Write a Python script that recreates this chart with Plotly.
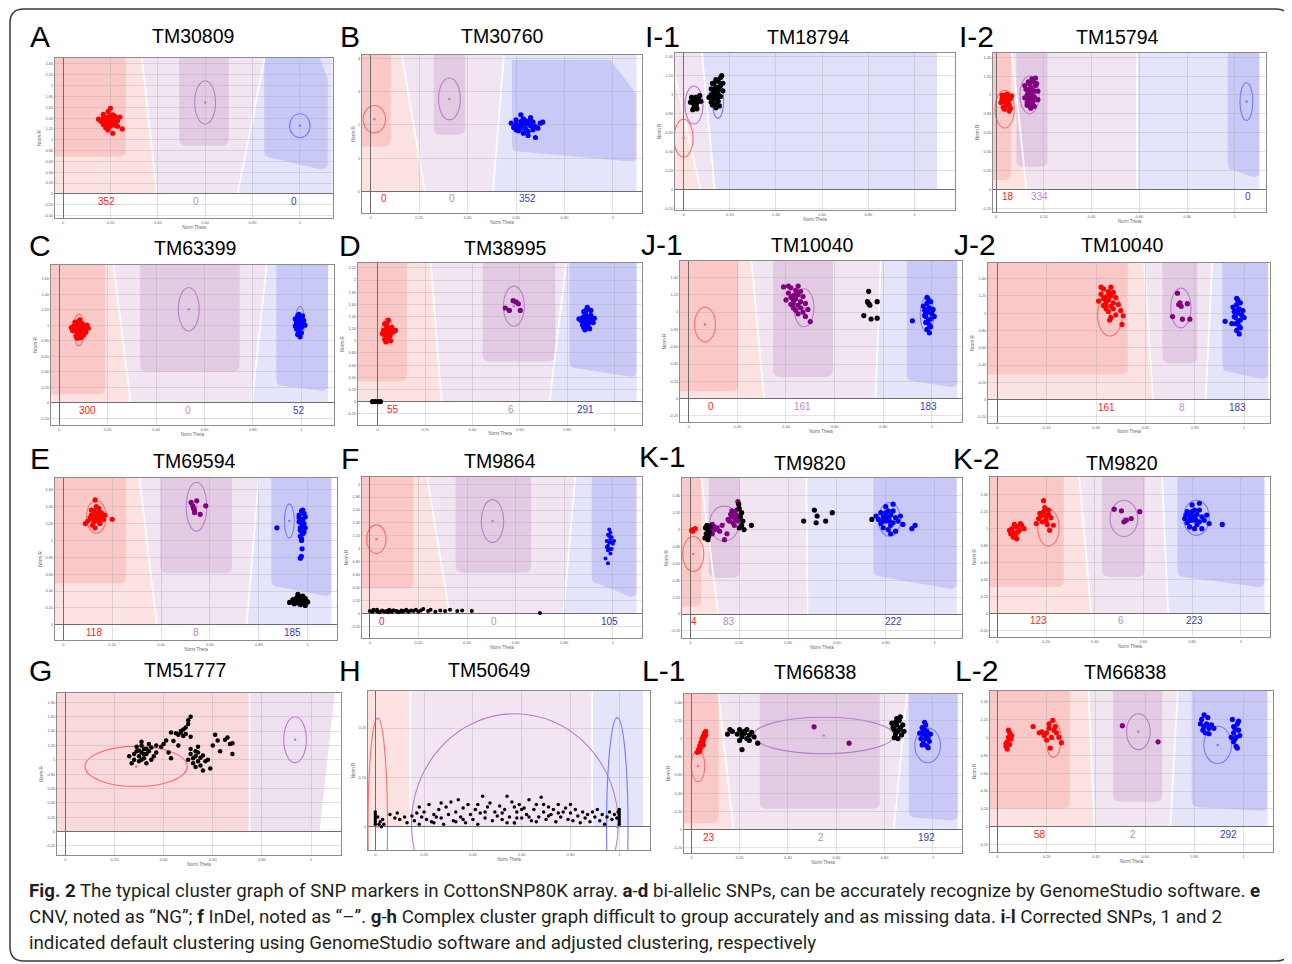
import plotly.graph_objects as go

W, H = 1292, 964
OFF = 8                      # the page body adds an 8px margin around the figure
FW, FH = W - OFF, H - OFF    # figure size actually used

# ---------------- data ----------------
PANEL_KEYS = ["A", "B", "I-1", "I-2", "C", "D", "J-1", "J-2",
              "E", "F", "K-1", "K-2", "G", "H", "L-1", "L-2"]
SNP_NAMES = ["TM30809", "TM30760", "TM18794", "TM15794", "TM63399", "TM38995", "TM10040", "TM10040",
             "TM69594", "TM9864", "TM9820", "TM9820", "TM51777", "TM50649", "TM66838", "TM66838"]

# genotype counts (AA, AB, BB) shown under each plot
COUNTS = {
    "A": [352, 0, 0], "B": [0, 0, 352], "I-2": [18, 334, 0],
    "C": [300, 0, 52], "D": [55, 6, 291], "J-1": [0, 161, 183], "J-2": [161, 8, 183],
    "E": [118, 8, 185], "F": [0, 0, 105], "K-1": [4, 83, 222], "K-2": [123, 6, 223],
    "L-1": [23, 2, 192], "L-2": [58, 2, 292],
}

X_TICKS = [0, 0.2, 0.4, 0.6, 0.8, 1]
X_TICK_TEXT = ["0", "0.20", "0.40", "0.60", "0.80", "1"]
YT_A = [-0.4, -0.2, 0, 0.2, 0.4, 0.6, 0.8, 1, 1.2, 1.4, 1.6, 1.8, 2, 2.2, 2.4]
YT_B = [0, 1, 2, 3, 4]
YT_14 = [-0.2, 0, 0.2, 0.4, 0.6, 0.8, 1, 1.2, 1.4]
YT_C = [-0.2, 0, 0.2, 0.4, 0.6, 0.8, 1, 1.2, 1.4, 1.6]
YT_D = [-0.2, 0, 0.2, 0.4, 0.6, 0.8, 1, 1.2, 1.4, 1.6, 1.8, 2, 2.2]
YT_E = [0, 0.2, 0.4, 0.6, 0.8, 1, 1.2, 1.4, 1.6]
YT_F = [-0.2, 0, 0.2, 0.4, 0.6, 0.8, 1, 1.2, 1.4, 1.6, 1.8, 2]
YT_G = [-0.2, 0, 0.2, 0.4, 0.6, 0.8, 1, 1.2, 1.4, 1.6, 1.8]
YT_H = [0, 0.1, 0.2]

# sample points (Norm Theta, Norm R)
A_RED = [(0.19,1.33),(0.18,1.36),(0.20,1.30),(0.21,1.38),(0.17,1.28),(0.22,1.33),(0.19,1.42),(0.20,1.25),
         (0.18,1.22),(0.21,1.46),(0.23,1.35),(0.16,1.34),(0.19,1.52),(0.22,1.27),(0.17,1.40),(0.20,1.37),
         (0.18,1.30),(0.21,1.29),(0.24,1.42),(0.15,1.38),(0.19,1.18),(0.21,1.12),(0.25,1.20),(0.20,1.58),
         (0.17,1.47),(0.22,1.43),(0.23,1.25),(0.19,1.26),(0.18,1.40),(0.20,1.44)]
B_BLUE = [(0.63,2.0),(0.61,1.95),(0.65,2.05),(0.62,2.10),(0.64,1.88),(0.60,2.02),(0.66,1.97),(0.63,2.18),
          (0.61,1.82),(0.67,2.08),(0.64,2.12),(0.62,1.90),(0.65,1.80),(0.60,2.15),(0.68,1.95),(0.59,1.92),
          (0.66,2.22),(0.63,1.75),(0.70,2.05),(0.71,2.08),(0.58,2.05),(0.65,1.68),(0.62,2.30),(0.67,1.85),
          (0.69,1.90),(0.64,2.02),(0.62,2.0),(0.68,1.62),(0.60,1.85),(0.66,2.15)]
I1_BLACK = [(0.035,0.97),(0.04,0.93),(0.045,0.90),(0.05,0.95),(0.055,0.88),(0.06,0.92),(0.065,0.96),(0.07,0.99),
            (0.045,0.86),(0.04,0.84),(0.058,0.85),(0.075,0.93),(0.03,0.92),(0.052,0.97),
            (0.14,1.0),(0.13,0.95),(0.15,1.05),(0.12,1.0),(0.16,0.98),(0.14,1.08),(0.13,1.03),(0.15,0.93),
            (0.12,0.92),(0.16,1.10),(0.14,0.90),(0.17,1.04),(0.11,0.97),(0.15,1.14),(0.13,1.12),(0.16,1.18),
            (0.14,0.86),(0.12,1.06),(0.15,1.0),(0.13,0.98),(0.17,1.12),(0.14,1.16),(0.155,0.88),(0.125,0.89),
            (0.165,1.2),(0.135,1.06),(0.145,0.96),(0.155,1.08),(0.125,1.12)]
I2_RED = [(0.025,0.96),(0.03,0.99),(0.035,0.93),(0.04,0.96),(0.045,1.01),(0.05,0.94),(0.055,0.90),(0.06,0.86),
          (0.04,0.88),(0.035,0.85),(0.06,0.96),(0.02,0.92),(0.05,0.98),(0.03,0.87),(0.045,0.89),(0.065,0.99),
          (0.055,0.83),(0.025,1.0)]
I2_PURPLE = [(0.145,1.0),(0.135,0.95),(0.155,1.05),(0.13,1.0),(0.16,0.98),(0.145,1.08),(0.135,1.03),(0.155,0.93),
             (0.13,0.92),(0.165,1.10),(0.145,0.90),(0.175,1.04),(0.12,0.97),(0.155,1.14),(0.14,1.12),(0.165,1.18),
             (0.145,0.86),(0.125,1.06),(0.15,1.0),(0.14,0.98),(0.17,1.12),(0.15,1.17),(0.16,0.88),(0.13,0.89),
             (0.175,0.95),(0.14,1.06),(0.15,0.96),(0.12,1.1),(0.16,1.04),(0.135,1.14)]
C_RED = [(0.08,0.95),(0.07,0.92),(0.09,0.98),(0.075,1.02),(0.085,0.88),(0.065,0.96),(0.095,0.93),(0.08,1.05),
         (0.07,0.86),(0.1,0.99),(0.09,0.9),(0.06,0.99),(0.105,0.95),(0.075,0.83),(0.085,1.07),(0.055,0.93),
         (0.11,0.91),(0.12,0.96),(0.065,1.04),(0.095,1.02),(0.08,0.89),(0.09,0.84),(0.07,0.98),(0.1,0.87),
         (0.05,0.97),(0.115,1.0),(0.085,0.95),(0.075,0.95)]
C_BLUE = [(0.99,1.05),(0.985,1.0),(0.995,1.10),(0.98,0.95),(1.0,1.02),(0.99,0.92),(0.975,1.08),(1.005,1.12),
          (0.985,0.88),(1.0,0.97),(0.99,1.14),(0.98,1.03),(1.01,1.06),(0.995,0.85),(0.975,0.99),(1.0,0.9),
          (0.985,1.12),(1.015,1.0),(0.99,0.97),(0.995,1.07)]
D_RED = [(0.04,1.15),(0.03,1.1),(0.05,1.2),(0.035,1.25),(0.045,1.05),(0.025,1.17),(0.055,1.12),(0.04,1.3),
         (0.03,1.02),(0.06,1.22),(0.05,1.08),(0.02,1.12),(0.065,1.15),(0.035,0.98),(0.045,1.34),(0.075,1.17),
         (0.04,1.22),(0.05,1.15),(0.03,1.28),(0.055,1.0)]
D_PURPLE = [(0.556,1.50),(0.572,1.66),(0.584,1.64),(0.594,1.61),(0.602,1.50),(0.539,1.54)]
D_BLUE = [(0.88,1.35),(0.87,1.3),(0.89,1.4),(0.875,1.45),(0.885,1.25),(0.865,1.38),(0.895,1.32),(0.88,1.5),
          (0.87,1.22),(0.9,1.42),(0.89,1.28),(0.86,1.33),(0.905,1.36),(0.875,1.18),(0.885,1.55),(0.915,1.37),
          (0.88,1.42),(0.89,1.35),(0.87,1.48),(0.895,1.2),(0.85,1.36),(0.9,1.5),(0.865,1.26),(0.88,1.28),(0.91,1.3)]
D_BLACK = [(-0.022,0.0),(-0.01,0.0),(0.002,0.0),(0.012,0.0)]
J1_PURPLE = [(0.44,1.15),(0.43,1.1),(0.45,1.2),(0.42,1.17),(0.46,1.12),(0.44,1.25),(0.43,1.05),(0.45,1.08),
             (0.41,1.22),(0.47,1.18),(0.42,1.28),(0.46,1.05),(0.44,1.02),(0.4,1.14),(0.48,1.1),(0.45,1.3),
             (0.43,1.19),(0.47,1.0),(0.42,1.09),(0.49,1.03),(0.45,0.98),(0.41,1.3),(0.44,1.2),(0.46,1.24),
             (0.5,0.89),(0.39,1.29),(0.48,0.95),(0.43,1.14)]
J1_BLACK = [(0.72,0.96),(0.74,1.1),(0.735,1.12),(0.745,1.08),(0.775,1.12),(0.75,0.92),(0.775,0.93),(0.74,1.24)]
J1_BLUE = [(0.985,1.0),(0.975,0.95),(0.99,1.05),(0.98,1.1),(0.995,0.92),(0.97,1.02),(1.0,0.98),(0.985,1.15),
           (0.975,0.88),(0.99,0.85),(1.005,1.03),(0.98,0.8),(0.995,1.12),(0.97,0.96),(0.985,0.9),(0.99,0.76),
           (0.965,1.07),(1.01,0.95),(0.98,1.17),(0.995,0.83),(0.92,0.9),(0.985,1.04),(0.975,0.99)]
J2_RED = [(0.45,1.15),(0.44,1.1),(0.46,1.2),(0.43,1.17),(0.47,1.12),(0.45,1.25),(0.44,1.05),(0.46,1.08),
          (0.42,1.22),(0.48,1.18),(0.43,1.28),(0.47,1.05),(0.45,1.02),(0.41,1.14),(0.49,1.1),(0.46,1.3),
          (0.44,1.19),(0.48,0.98),(0.43,1.09),(0.5,1.03),(0.46,0.95),(0.42,1.3),(0.45,1.2),(0.47,1.24),
          (0.51,0.97),(0.505,0.87),(0.455,0.92),(0.44,1.14)]
J2_PURPLE = [(0.73,1.23),(0.735,1.1),(0.745,1.08),(0.71,0.96),(0.77,1.11),(0.75,0.93),(0.78,0.93),(0.74,1.12)]
J2_BLUE = [(0.975,1.0),(0.965,0.95),(0.98,1.05),(0.97,1.1),(0.985,0.92),(0.96,1.02),(0.99,0.98),(0.975,1.15),
           (0.965,0.88),(0.98,0.85),(0.995,1.03),(0.97,0.8),(0.985,1.12),(0.96,0.96),(0.975,0.9),(0.98,0.76),
           (0.955,1.07),(1.0,0.95),(0.97,1.17),(0.985,0.83),(0.923,0.906),(0.95,0.88),(0.975,1.04)]
E_RED = [(0.13,1.28),(0.12,1.25),(0.14,1.32),(0.125,1.35),(0.145,1.22),(0.115,1.3),(0.15,1.27),(0.135,1.4),
         (0.12,1.18),(0.155,1.33),(0.14,1.24),(0.11,1.27),(0.16,1.29),(0.13,1.15),(0.145,1.38),(0.17,1.3),
         (0.125,1.22),(0.135,1.3),(0.1,1.23),(0.165,1.25),(0.13,1.48),(0.09,1.2),(0.15,1.2),(0.2,1.25),
         (0.115,1.36),(0.14,1.28)]
E_PURPLE = [(0.523,1.45),(0.53,1.41),(0.533,1.38),(0.537,1.33),(0.546,1.47),(0.56,1.31),(0.583,1.41),(0.537,1.36)]
E_BLUE = [(0.975,1.2),(0.97,1.15),(0.98,1.25),(0.965,1.3),(0.985,1.1),(0.975,1.35),(0.97,1.05),(0.98,1.18),
          (0.965,1.22),(0.99,1.28),(0.975,1.02),(0.985,1.32),(0.97,1.12),(0.98,1.08),(0.965,1.27),(0.99,1.15),
          (0.975,1.0),(0.98,1.36),(0.977,0.9),(0.974,0.81),(0.97,0.79),(0.874,1.15),(0.97,1.24),(0.985,1.2)]
E_BLACK = [(0.926,0.265),(0.94,0.3),(0.95,0.28),(0.955,0.32),(0.96,0.26),(0.965,0.3),(0.97,0.33),(0.975,0.27),
           (0.98,0.3),(0.985,0.25),(0.99,0.31),(0.995,0.28),(0.96,0.36),(0.97,0.24),(0.98,0.34),(1.0,0.27),
           (0.945,0.25),(0.99,0.23),(0.955,0.29),(0.975,0.31)]
F_BLUE = [(0.985,1.1),(0.98,1.05),(0.99,1.15),(0.985,1.2),(0.995,1.0),(0.975,1.12),(0.99,1.25),(0.98,0.98),
          (1.0,1.08),(0.985,1.3),(0.975,1.03),(0.995,1.18),(0.99,0.93),(0.98,1.22),(1.005,1.12),(0.985,1.0),
          (0.97,0.85),(0.98,0.78),(0.99,1.1)]
F_BLACK = [(0.0,0.04),(0.01,0.03),(0.02,0.05),(0.03,0.04),(0.04,0.02),(0.05,0.05),(0.06,0.03),(0.07,0.04),
           (0.08,0.06),(0.09,0.03),(0.1,0.05),(0.11,0.04),(0.12,0.02),(0.13,0.05),(0.14,0.04),(0.15,0.06),
           (0.16,0.03),(0.17,0.05),(0.18,0.04),(0.19,0.06),(0.2,0.03),(0.21,0.05),(0.22,0.07),(0.24,0.04),
           (0.25,0.06),(0.27,0.03),(0.29,0.05),(0.31,0.04),(0.33,0.06),(0.36,0.04),(0.38,0.05),(0.42,0.04),
           (0.70,0.01),(0.015,0.06),(0.035,0.03),(0.055,0.04),(0.075,0.02),(0.095,0.05),(0.115,0.03),
           (0.135,0.03),(0.155,0.04),(0.03,0.06)]
K1_RED = [(0.005,0.99),(0.012,1.0),(0.02,1.01),(0.01,0.98)]
K1_BLACK = [(0.06,0.9),(0.065,0.95),(0.07,1.0),(0.075,0.92),(0.068,1.05),(0.072,0.88),(0.078,0.97),(0.062,1.02),
            (0.08,1.04),(0.07,0.94),(0.2,1.25),(0.21,1.2),(0.205,1.15),(0.215,1.1),(0.22,1.0),(0.2,1.02),
            (0.21,1.05),(0.198,1.3),(0.25,1.05),(0.464,1.1),(0.508,1.23),(0.519,1.16),(0.515,1.08),(0.554,1.1),
            (0.581,1.2),(0.743,1.12)]
K1_PURPLE = [(0.08,0.98),(0.085,1.02),(0.09,0.95),(0.095,1.04),(0.1,1.0),(0.09,1.06),(0.11,1.02),(0.13,1.05),
             (0.12,0.98),(0.15,0.95),(0.14,0.88),(0.16,1.1),(0.17,1.15),(0.175,1.08),(0.18,1.2),(0.185,1.12),
             (0.19,1.17),(0.195,1.1),(0.18,1.05),(0.17,1.22),(0.19,1.23),(0.165,1.18),(0.2,1.14),(0.195,1.33),
             (0.155,1.12)]
K1_BLUE = [(0.81,1.13),(0.8,1.1),(0.82,1.17),(0.79,1.15),(0.83,1.08),(0.81,1.22),(0.78,1.07),(0.84,1.14),
           (0.8,1.2),(0.82,1.05),(0.77,1.12),(0.85,1.1),(0.79,1.02),(0.83,1.22),(0.81,1.0),(0.76,1.16),
           (0.86,1.16),(0.8,1.27),(0.84,0.98),(0.78,1.2),(0.82,0.95),(0.87,1.06),(0.8,1.15),(0.83,1.3),
           (0.79,1.1),(0.907,1.01),(0.92,1.05),(0.815,1.1)]
K2_RED = [(0.05,0.98),(0.06,1.0),(0.07,0.95),(0.08,1.02),(0.075,0.92),(0.09,0.98),(0.1,1.04),(0.065,0.9),
          (0.085,0.96),(0.095,1.06),(0.055,0.94),(0.11,1.0),(0.07,1.05),(0.08,0.88),
          (0.18,1.15),(0.19,1.2),(0.2,1.1),(0.21,1.17),(0.17,1.12),(0.195,1.25),(0.205,1.05),(0.185,1.08),
          (0.22,1.13),(0.19,1.33),(0.175,1.18),(0.21,1.22),(0.2,1.15),(0.16,1.06),(0.23,1.04),(0.215,0.98)]
K2_PURPLE = [(0.48,1.23),(0.51,1.21),(0.53,1.1),(0.55,1.12),(0.585,1.2),(0.52,1.08)]
K2_BLUE = [(0.81,1.13),(0.8,1.1),(0.82,1.17),(0.79,1.15),(0.83,1.08),(0.81,1.22),(0.78,1.07),(0.84,1.14),
           (0.8,1.2),(0.82,1.05),(0.77,1.12),(0.85,1.1),(0.79,1.02),(0.83,1.22),(0.81,1.0),(0.775,1.16),
           (0.86,1.16),(0.8,1.28),(0.84,1.0),(0.78,1.2),(0.87,1.06),(0.8,1.15),(0.83,1.3),(0.79,1.1),
           (0.924,1.05),(0.815,1.1)]
G_BLACK = [(0.31,1.1),(0.3,1.05),(0.32,1.15),(0.29,1.12),(0.33,1.08),(0.31,1.2),(0.3,0.98),(0.34,1.12),
           (0.32,1.02),(0.28,1.08),(0.35,1.17),(0.31,1.25),(0.33,0.95),(0.29,1.18),(0.36,1.05),(0.27,0.95),
           (0.34,1.22),(0.3,1.13),(0.32,1.08),(0.37,1.1),(0.31,1.0),(0.33,1.15),(0.28,1.0),(0.35,1.0),
           (0.47,1.38),(0.48,1.42),(0.46,1.35),(0.49,1.45),(0.5,1.5),(0.5,1.55),(0.51,1.6),(0.47,1.4),
           (0.45,1.37),(0.49,1.36),(0.48,1.33),(0.43,1.38),(0.51,1.32),
           (0.52,1.02),(0.53,1.05),(0.54,0.98),(0.51,1.08),(0.55,1.03),(0.53,1.12),(0.52,0.95),(0.56,1.06),
           (0.54,1.1),(0.5,1.0),(0.57,0.98),(0.55,0.92),(0.53,0.9),(0.58,1.0),(0.59,0.88),(0.51,1.15),
           (0.56,0.85),(0.54,1.18),
           (0.41,1.27),(0.42,1.1),(0.43,1.02),(0.39,1.18),(0.44,1.26),(0.61,1.35),(0.62,1.27),(0.63,1.12),
           (0.65,1.28),(0.66,1.31),(0.67,1.22),(0.68,1.23),(0.68,1.08),(0.6,1.2),(0.4,1.22),(0.37,1.2),
           (0.26,1.05),(0.46,1.2)]
H_BLACK = [(0.0,0.005),(0.0,0.01),(0.0,0.015),(0.0,0.02),(0.0,0.025),(0.0,0.03),(0.01,0.02),(0.015,0.005),
           (0.02,0.01),(0.025,0.0),(0.03,0.015),(0.035,0.005),(0.06,0.025),(0.08,0.018),(0.09,0.028),
           (0.1,0.015),(0.12,0.02),(0.13,0.008),(0.15,0.022),(0.16,0.012),(0.17,0.028),(0.18,0.005),
           (0.18,0.04),(0.19,0.02),(0.2,0.03),(0.21,0.015),(0.22,0.045),(0.23,0.01),(0.24,0.025),(0.25,0.02),
           (0.26,0.035),(0.27,0.018),(0.28,0.005),(0.29,0.04),(0.3,0.025),(0.31,0.05),(0.32,0.012),(0.33,0.03),
           (0.34,0.055),(0.35,0.02),(0.36,0.038),(0.37,0.008),(0.38,0.045),(0.39,0.025),(0.4,0.015),
           (0.41,0.035),(0.42,0.005),(0.43,0.028),(0.44,0.062),(0.45,0.018),(0.46,0.04),(0.47,0.048),
           (0.48,0.012),(0.49,0.03),(0.5,0.022),(0.51,0.042),(0.52,0.015),(0.53,0.035),(0.54,0.062),
           (0.55,0.02),(0.56,0.05),(0.57,0.008),(0.58,0.03),(0.59,0.045),(0.6,0.018),(0.61,0.038),
           (0.62,0.025),(0.63,0.055),(0.64,0.012),(0.65,0.035),(0.66,0.045),(0.67,0.02),(0.68,0.06),
           (0.69,0.03),(0.7,0.015),(0.71,0.04),(0.72,0.025),(0.73,0.035),(0.74,0.01),(0.75,0.045),
           (0.76,0.02),(0.77,0.03),(0.78,0.038),(0.79,0.015),(0.8,0.028),(0.81,0.012),(0.82,0.035),
           (0.83,0.022),(0.84,0.008),(0.85,0.03),(0.86,0.018),(0.87,0.025),(0.88,0.01),(0.89,0.03),
           (0.9,0.02),(0.91,0.035),(0.92,0.012),(0.93,0.025),(0.94,0.005),(0.95,0.02),(0.96,0.03),
           (0.97,0.015),(0.98,0.025),(1.0,0.005),(1.0,0.01),(1.0,0.015),(1.0,0.02),(1.0,0.025),(1.0,0.03),
           (1.0,0.035),(0.99,0.018),(0.995,0.03),(0.27,0.048),(0.36,0.015),(0.45,0.03),(0.52,0.028),
           (0.58,0.018),(0.63,0.02),(0.69,0.045),(0.75,0.028),(0.8,0.045),(0.57,0.04),(0.42,0.045),
           (0.33,0.01),(0.24,0.008),(0.6,0.035),(0.66,0.01),(0.71,0.022),(0.54,0.008)]
L1_RED = [(0.03,0.88),(0.035,0.92),(0.04,0.96),(0.045,1.0),(0.05,1.03),(0.055,1.06),(0.06,1.08),(0.04,0.9),
          (0.05,0.98),(0.045,0.94),(0.035,0.86),(0.055,1.02),(0.06,1.04),(0.025,0.85),(0.05,0.93)]
L1_BLACK = [(0.15,1.05),(0.17,1.08),(0.19,1.05),(0.2,1.1),(0.21,1.02),(0.22,1.06),(0.23,1.0),(0.22,1.08),
            (0.24,1.04),(0.25,1.07),(0.21,1.06),(0.23,1.1),(0.2,0.98),(0.24,0.98),(0.26,1.02),(0.275,0.95),
            (0.21,0.88),(0.16,1.1),
            (0.84,1.1),(0.85,1.15),(0.86,1.2),(0.845,1.05),(0.855,1.08),(0.865,1.12),(0.83,1.17),(0.85,1.22),
            (0.87,1.04),(0.84,1.01),(0.86,1.1),(0.875,1.15),(0.835,1.12),(0.855,1.0),(0.865,1.24),(0.845,1.18),
            (0.88,1.08)]
L1_PURPLE = [(0.508,1.13),(0.653,0.95)]
L1_BLUE = [(0.96,1.05),(0.965,1.1),(0.97,1.0),(0.975,1.08),(0.955,1.12),(0.98,1.02),(0.96,0.95),(0.97,1.15),
           (0.985,0.97),(0.95,1.0),(0.975,0.92),(0.965,1.18),(0.99,1.05),(0.96,1.08),(0.98,0.9),(0.945,1.06),
           (0.97,1.04),(0.955,0.93)]
L2_RED = [(0.035,0.9),(0.04,0.95),(0.045,1.0),(0.05,1.05),(0.04,0.87),(0.055,0.98),(0.045,1.08),(0.035,0.93),
          (0.05,0.92),(0.058,1.02),
          (0.2,1.05),(0.21,1.1),(0.22,1.0),(0.23,1.08),(0.19,1.02),(0.24,1.05),(0.21,1.15),(0.225,1.19),
          (0.2,0.97),(0.25,1.0),(0.18,1.06),(0.215,0.88),(0.26,0.94),(0.145,1.12),(0.17,1.05),(0.235,1.12)]
L2_PURPLE = [(0.508,1.13),(0.653,0.95)]
L2_BLUE = [(0.84,1.12),(0.85,1.15),(0.83,1.2),(0.86,1.1),(0.845,1.05),(0.855,1.22),(0.835,1.08),(0.87,1.14),
           (0.84,1.25),(0.86,1.04),(0.825,1.15),(0.88,1.1),
           (0.96,1.05),(0.965,1.1),(0.97,1.0),(0.975,1.15),(0.96,0.95),(0.98,1.08),(0.955,1.2),(0.97,0.9),
           (0.985,1.02),(0.96,1.12),(0.975,0.88),(0.95,1.0),(0.98,1.18),(0.965,0.98)]

# cluster ellipses: (genotype colour, centre theta, centre R, half-width, half-height)
A_ELL = [("p", 0.60, 1.69, 0.044, 0.40), ("b", 1.0, 1.26, 0.043, 0.22)]
B_ELL = [("r", 0.015, 2.17, 0.046, 0.41), ("p", 0.325, 2.78, 0.045, 0.63)]
I1_ELL = [("r", 0.0, 0.54, 0.041, 0.2), ("p", 0.045, 0.89, 0.039, 0.2), ("b", 0.149, 0.94, 0.025, 0.19)]
I2_ELL = [("r", 0.036, 0.85, 0.04, 0.2), ("p", 0.14, 1.0, 0.04, 0.2), ("b", 1.048, 0.93, 0.027, 0.2)]
C_ELL = [("r", 0.081, 0.94, 0.022, 0.204), ("p", 0.535, 1.205, 0.043, 0.28), ("b", 0.995, 1.045, 0.019, 0.196)]
D_ELL = [("r", 0.041, 1.166, 0.024, 0.206), ("p", 0.575, 1.57, 0.044, 0.33)]
J1_ELL = [("r", 0.067, 0.856, 0.043, 0.2), ("p", 0.474, 1.05, 0.041, 0.22), ("b", 0.98, 0.97, 0.028, 0.2)]
J2_ELL = [("r", 0.456, 0.976, 0.05, 0.24), ("p", 0.744, 1.06, 0.041, 0.23)]
E_ELL = [("r", 0.135, 1.28, 0.04, 0.194), ("p", 0.545, 1.4, 0.042, 0.29), ("b", 0.925, 1.23, 0.02, 0.2)]
F_ELL = [("r", 0.027, 1.15, 0.04, 0.22), ("p", 0.505, 1.43, 0.046, 0.33)]
K1_ELL = [("r", 0.012, 0.71, 0.043, 0.207), ("p", 0.139, 1.07, 0.06, 0.207), ("b", 0.815, 1.12, 0.045, 0.2)]
K2_ELL = [("r", 0.21, 1.01, 0.044, 0.217), ("p", 0.52, 1.12, 0.057, 0.213), ("b", 0.818, 1.128, 0.053, 0.207)]
G_ELL = [("r", 0.288, 0.907, 0.208, 0.28), ("p", 0.935, 1.28, 0.046, 0.32)]
H_ELL = [("r", 0.01, 0.0, 0.04, 0.22), ("p", 0.572, 0.005, 0.424, 0.224), ("b", 0.992, 0.0, 0.044, 0.221)]
L1_ELL = [("r", 0.028, 0.70, 0.028, 0.174), ("p", 0.548, 1.034, 0.29, 0.2), ("b", 0.978, 0.925, 0.053, 0.19)]
L2_ELL = [("r", 0.228, 0.978, 0.031, 0.2), ("p", 0.573, 1.063, 0.048, 0.2), ("b", 0.895, 0.915, 0.056, 0.208)]

POINTS = {
    "A": [("r", A_RED)], "B": [("b", B_BLUE)], "I-1": [("k", I1_BLACK)],
    "I-2": [("r", I2_RED), ("p", I2_PURPLE)], "C": [("r", C_RED), ("b", C_BLUE)],
    "D": [("r", D_RED), ("p", D_PURPLE), ("b", D_BLUE), ("k", D_BLACK)],
    "J-1": [("p", J1_PURPLE), ("k", J1_BLACK), ("b", J1_BLUE)],
    "J-2": [("r", J2_RED), ("p", J2_PURPLE), ("b", J2_BLUE)],
    "E": [("r", E_RED), ("p", E_PURPLE), ("b", E_BLUE), ("k", E_BLACK)],
    "F": [("b", F_BLUE), ("k", F_BLACK)],
    "K-1": [("r", K1_RED), ("p", K1_PURPLE), ("k", K1_BLACK), ("b", K1_BLUE)],
    "K-2": [("r", K2_RED), ("p", K2_PURPLE), ("b", K2_BLUE)],
    "G": [("k", G_BLACK)], "H": [("k", H_BLACK)],
    "L-1": [("r", L1_RED), ("k", L1_BLACK), ("p", L1_PURPLE), ("b", L1_BLUE)],
    "L-2": [("r", L2_RED), ("p", L2_PURPLE), ("b", L2_BLUE)],
}
ELLIPSES = {"A": A_ELL, "B": B_ELL, "I-1": I1_ELL, "I-2": I2_ELL, "C": C_ELL, "D": D_ELL,
            "J-1": J1_ELL, "J-2": J2_ELL, "E": E_ELL, "F": F_ELL, "K-1": K1_ELL, "K-2": K2_ELL,
            "G": G_ELL, "H": H_ELL, "L-1": L1_ELL, "L-2": L2_ELL}

# ---------------- layout / style ----------------
LR, DR = "#fde2e2", "#fbc8c8"
LP, DP = "#f1e5f1", "#e2cbe2"
LB, DB = "#e4e4fb", "#c9c9f8"
PT_COL = {"r": "#ff0000", "p": "#800080", "b": "#0000ff", "k": "#000000"}
ELL_COL = {"r": "#ff6b6b", "p": "#b97ccb", "b": "#7777ff"}
CNT_COL = ["#ff1a1a", "#bb88cc", "#3a3ab0"]

PANELS = {
    "A": dict(box=(55, 58, 333, 218), xr=(-0.034, 1.14), yr=(-0.445, 2.51), yt=YT_A,
              b1=(0.333, 0.396), b2=(0.852, 0.737), sr=1.14,
              rbox=(0.265, 0.69), pbox=(0.49, 0.70, 0.89), bbox=(0.85, 1.118, 0.67, 0.45, (1.077, 2.11), None),
              cx=[0.185, 0.56, 0.975], lab=(40, 36), tit=(193, 36)),
    "B": dict(box=(362, 55, 642, 213), xr=(-0.036, 1.12), yr=(-0.65, 4.1), yt=YT_B,
              b1=(0.128, 0.224), b2=(0.55, 0.505), sr=1.10,
              rbox=(0.083, 1.35), pbox=(0.26, 0.39, 1.7), bbox=(0.583, 1.10, 1.2, 0.9, (0.99, 2.9), 3.95),
              cx=[0.055, 0.335, 0.646], lab=(350, 36), tit=(502, 36)),
    "I-1": dict(box=(675, 53, 955, 210), xr=(-0.037, 1.175), yr=(-0.22, 1.44), yt=YT_14,
                b1=(-0.06, 0.073), b2=(0.08, 0.135), sr=1.10, rbox=None, pbox=None, bbox=None,
                cx=None, lab=(662, 36), tit=(808, 37), colors=(LR, LP, "#e0e0fa")),
    "I-2": dict(box=(993, 53, 1266, 212), xr=(-0.013, 1.13), yr=(-0.24, 1.445), yt=YT_14,
                b1=(0.067, 0.127), b2=(0.59, 0.59), sr=1.105,
                rbox=(0.062, 0.1), pbox=(0.085, 0.216, 0.24), bbox=(0.97, 1.105, 0.2, 0.13, None, None),
                cx=[0.05, 0.18, 1.054], lab=(977, 36), tit=(1117, 37)),
    "C": dict(box=(51, 265, 334, 425), xr=(-0.034, 1.135), yr=(-0.288, 1.776), yt=YT_C,
              b1=(0.224, 0.295), b2=(0.857, 0.796), sr=1.113,
              rbox=(0.19, 0.11), pbox=(0.334, 0.745, 0.4), bbox=(0.897, 1.113, 0.215, 0.155, None, None),
              cx=[0.115, 0.53, 0.99], lab=(40, 245), tit=(195, 248)),
    "D": dict(box=(358, 263, 642, 425), xr=(-0.083, 1.116), yr=(-0.385, 2.28), yt=YT_D,
              b1=(0.224, 0.27), b2=(0.796, 0.726), sr=1.096,
              rbox=(0.124, 0.33), pbox=(0.443, 0.75, 0.66), bbox=(0.81, 1.096, 0.55, 0.41, None, None),
              cx=[0.063, 0.564, 0.879], lab=(350, 245), tit=(505, 248)),
    "J-1": dict(box=(680, 261, 962, 422), xr=(-0.036, 1.124), yr=(-0.27, 1.59), yt=YT_14,
                b1=(0.258, 0.31), b2=(0.79, 0.768), sr=1.107,
                rbox=(0.204, 0.085), pbox=(0.347, 0.593, 0.25), bbox=(0.897, 1.107, 0.2, 0.135, None, None),
                cx=[0.09, 0.467, 0.988], lab=(662, 244), tit=(812, 245)),
    "J-2": dict(box=(988, 263, 1270, 423), xr=(-0.038, 1.105), yr=(-0.27, 1.58), yt=YT_14,
                b1=(0.595, 0.631), b2=(0.871, 0.844), sr=1.1,
                rbox=(0.528, 0.29), pbox=(0.669, 0.811, 0.42), bbox=(0.912, 1.1, 0.32, 0.24, None, None),
                cx=[0.443, 0.748, 0.973], lab=(975, 244), tit=(1122, 245)),
    "E": dict(box=(55, 478, 337, 640), xr=(-0.034, 1.12), yr=(-0.18, 1.74), yt=YT_E,
              b1=(0.311, 0.383), b2=(0.8, 0.75), sr=1.1,
              rbox=(0.257, 0.49), pbox=(0.396, 0.69, 0.61), bbox=(0.851, 1.1, 0.45, 0.34, None, None),
              cx=[0.126, 0.544, 0.936], lab=(40, 458), tit=(195, 461)),
    "F": dict(box=(362, 477, 642, 638), xr=(-0.032, 1.12), yr=(-0.376, 2.11), yt=YT_F,
              b1=(0.236, 0.328), b2=(0.846, 0.796), sr=1.1,
              rbox=(0.18, 0.39), pbox=(0.353, 0.664, 0.63), bbox=(0.913, 1.1, 0.46, 0.26, None, None),
              cx=[0.05, 0.51, 0.988], lab=(350, 458), tit=(500, 461), msize=4),
    "K-1": dict(box=(682, 478, 962, 638), xr=(-0.034, 1.112), yr=(-0.284, 1.61), yt=YT_14,
                b1=(0.045, 0.114), b2=(0.475, 0.48), sr=1.093,
                rbox=(0.045, 0.09), pbox=(0.075, 0.203, 0.43), bbox=(0.749, 1.093, 0.445, 0.3, None, None),
                cx=[0.014, 0.16, 0.832], lab=(662, 456), tit=(810, 463)),
    "K-2": dict(box=(990, 477, 1270, 637), xr=(-0.03, 1.12), yr=(-0.28, 1.61), yt=YT_14,
                b1=(0.336, 0.386), b2=(0.677, 0.702), sr=1.1,
                rbox=(0.273, 0.31), pbox=(0.43, 0.606, 0.43), bbox=(0.74, 1.1, 0.43, 0.31, None, None),
                cx=[0.17, 0.51, 0.81], lab=(977, 458), tit=(1122, 463)),
    "G": dict(box=(57, 693, 341, 855), xr=(-0.034, 1.122), yr=(-0.326, 1.93), yt=YT_G,
              b1=(0.75, 0.75), b2=(1.1, 1.038), sr=1.122, rbox=None, pbox=None, bbox=None,
              cx=None, lab=(40, 670), tit=(185, 670), colors=("#fad9dc", "#ede0ef", None), msize=4.5),
    "H": dict(box=(368, 691, 650, 850), xr=(-0.03, 1.126), yr=(-0.047, 0.275), yt=YT_H,
              b1=(0.144, 0.144), b2=(0.889, 0.889), sr=1.1, rbox=None, pbox=None, bbox=None,
              cx=None, lab=(350, 670), tit=(489, 670), msize=3.5),
    "L-1": dict(box=(684, 694, 962, 853), xr=(-0.03, 1.12), yr=(-0.256, 1.49), yt=YT_14,
                b1=(0.113, 0.175), b2=(0.893, 0.838), sr=1.105,
                rbox=(0.113, 0.07), pbox=(0.283, 0.78, 0.23), bbox=(0.9, 1.105, 0.13, 0.1, None, None),
                cx=[0.075, 0.538, 0.975], lab=(664, 670), tit=(815, 672)),
    "L-2": dict(box=(990, 691, 1273, 852), xr=(-0.03, 1.12), yr=(-0.28, 1.517), yt=YT_14,
                b1=(0.37, 0.395), b2=(0.733, 0.703), sr=1.1,
                rbox=(0.295, 0.2), pbox=(0.47, 0.67, 0.28), bbox=(0.79, 1.1, 0.22, 0.18, None, None),
                cx=[0.175, 0.553, 0.94], lab=(977, 670), tit=(1125, 672)),
}

CAPTION = [
    "<b>Fig. 2</b> The typical cluster graph of SNP markers in CottonSNP80K array. <b>a</b>-<b>d</b> bi-allelic SNPs, "
    "can be accurately recognize by GenomeStudio software. <b>e</b>",
    "CNV, noted as \u201cNG\u201d; <b>f</b> InDel, noted as \u201c\u2013\u201d. <b>g</b>-<b>h</b> Complex cluster graph "
    "difficult to group accurately and as missing data. <b>i</b>-<b>l</b> Corrected SNPs, 1 and 2",
    "indicated default clustering using GenomeStudio software and adjusted clustering, respectively",
]
CAPTION_Y = [891, 917, 943]


def PX(x):
    return (x - OFF) / FW


def PY(y):
    return 1 - (y - OFF) / FH


def fmt(v):
    if abs(v - round(v)) < 1e-9:
        return str(int(round(v)))
    return f"{v:.2f}"


def poly(pts):
    return "M " + " L ".join(f"{x:.4f},{y:.4f}" for x, y in pts) + " Z"


def box_path(x0, x1, yt, ybl, ybr, rx, ry, chamfer=None):
    p = f"M {x0:.4f},{yt:.4f} "
    if chamfer:
        p += f"L {chamfer[0]:.4f},{yt:.4f} L {x1:.4f},{chamfer[1]:.4f} "
    else:
        p += f"L {x1 - rx:.4f},{yt:.4f} Q {x1:.4f},{yt:.4f} {x1:.4f},{yt - ry:.4f} "
    p += (f"L {x1:.4f},{ybr + ry:.4f} Q {x1:.4f},{ybr:.4f} {x1 - rx:.4f},{ybr:.4f} "
          f"L {x0 + rx:.4f},{ybl:.4f} Q {x0:.4f},{ybl:.4f} {x0:.4f},{ybl + ry:.4f} Z")
    return p


fig = go.Figure()
shapes, annotations = [], []
layout = dict(width=FW, height=FH, margin=dict(l=0, r=0, t=0, b=0),
              paper_bgcolor="white", plot_bgcolor="white", showlegend=False,
              font=dict(family="Liberation Sans, Arial, sans-serif"))

small = dict(size=4, color="#666666", family="Liberation Sans")

for i, key in enumerate(PANEL_KEYS):
    cfg = PANELS[key]
    n = i + 1
    sfx = "" if n == 1 else str(n)
    xref, yref = "x" + sfx, "y" + sfx
    bx0, by0, bx1, by1 = cfg["box"]
    xr, yr = cfg["xr"], cfg["yr"]
    sx = (xr[1] - xr[0]) / (bx1 - bx0)
    sy = (yr[1] - yr[0]) / (by1 - by0)
    ytop, xl = yr[1], xr[0]
    b1t, b1b = cfg["b1"]
    b2t, b2b = cfg["b2"]
    sr = cfg["sr"]
    cl, cm, cr = cfg.get("colors", (LR, LP, LB))
    msize = cfg.get("msize", 5.2)

    def add_fill(path, fill):
        shapes.append(dict(type="path", path=path, xref=xref, yref=yref, fillcolor=fill,
                           line=dict(width=0), layer="below"))

    add_fill(poly([(xl, 0), (xl, ytop), (b1t, ytop), (b1b, 0)]), cl)
    add_fill(poly([(b1b, 0), (b1t, ytop), (b2t, ytop), (b2b, 0)]), cm)
    if cr:
        add_fill(poly([(b2b, 0), (b2t, ytop), (sr, ytop), (sr, 0)]), cr)

    rx, ry = 7 * sx, 7 * sy
    if cfg["rbox"]:
        x1r, ybr_ = cfg["rbox"]
        add_fill(box_path(xl - 0.05, x1r, ytop + 0.1, ybr_, ybr_, rx, ry), DR)
    if cfg["pbox"]:
        x0p, x1p, ybp = cfg["pbox"]
        add_fill(box_path(x0p, x1p, ytop + 0.1, ybp, ybp, rx, ry), DP)
    if cfg["bbox"]:
        x0b, x1b, ybl, ybr2, ch, btop = cfg["bbox"]
        add_fill(box_path(x0b, x1b, btop if btop else ytop + 0.1, ybl, ybr2, rx, ry, ch), DB)

    for (t, b) in [(b1t, b1b), (b2t, b2b)]:
        shapes.append(dict(type="line", x0=b, y0=0, x1=t, y1=ytop, xref=xref, yref=yref,
                           line=dict(color="white", width=1.6), layer="below"))
    if cr:
        shapes.append(dict(type="line", x0=sr, y0=0, x1=sr, y1=ytop, xref=xref, yref=yref,
                           line=dict(color="white", width=1.2), layer="below"))

    # ellipses
    cxs, cys, ccs = [], [], []
    for (c, ex, ey, erx, ery) in ELLIPSES[key]:
        shapes.append(dict(type="circle", xref=xref, yref=yref, x0=ex - erx, x1=ex + erx,
                           y0=ey - ery, y1=ey + ery, line=dict(color=ELL_COL[c], width=1.1),
                           layer="below"))
        cxs.append(ex); cys.append(ey); ccs.append(ELL_COL[c])
    fig.add_trace(go.Scatter(x=cxs, y=cys, mode="markers", xaxis=xref, yaxis=yref,
                             marker=dict(size=2.5, color=ccs), hoverinfo="skip"))

    # sample points
    for (c, pts) in POINTS[key]:
        fig.add_trace(go.Scatter(x=[p[0] for p in pts], y=[p[1] for p in pts], mode="markers",
                                 xaxis=xref, yaxis=yref, hoverinfo="skip",
                                 marker=dict(size=msize, color=PT_COL[c], line=dict(width=0))))

    common = dict(showline=True, mirror=True, linecolor="#8c8c8c", linewidth=1,
                  showgrid=True, gridcolor="rgba(170,170,170,0.35)", gridwidth=0.6,
                  zeroline=True, zerolinecolor="#6e6e6e", zerolinewidth=1.1,
                  ticks="", tickfont=small, fixedrange=True)
    layout["xaxis" + sfx] = dict(common, domain=[PX(bx0), PX(bx1)], range=list(xr), anchor="y" + sfx,
                                 tickvals=X_TICKS, ticktext=X_TICK_TEXT,
                                 title=dict(text="Norm Theta", font=dict(size=4.5, color="#666"), standoff=1))
    layout["yaxis" + sfx] = dict(common, domain=[PY(by1), PY(by0)], range=list(yr), anchor="x" + sfx,
                                 tickvals=cfg["yt"], ticktext=[fmt(v) for v in cfg["yt"]],
                                 title=dict(text="Norm R", font=dict(size=4.5, color="#666"), standoff=2))

    # counts
    if cfg["cx"] and key in COUNTS:
        for j, (xc, val) in enumerate(zip(cfg["cx"], COUNTS[key])):
            annotations.append(dict(x=xc, y=-7.5 * sy, xref=xref, yref=yref, text=str(val),
                                    showarrow=False, font=dict(size=10, color=CNT_COL[j],
                                                               family="Liberation Sans")))

    # panel label and SNP name
    lx, ly = cfg["lab"]
    annotations.append(dict(x=PX(lx), y=PY(ly), xref="paper", yref="paper", text=key,
                            showarrow=False, xanchor="center", yanchor="middle",
                            font=dict(size=30, color="black", family="Liberation Sans")))
    tx, ty = cfg["tit"]
    annotations.append(dict(x=PX(tx), y=PY(ty), xref="paper", yref="paper", text=SNP_NAMES[i],
                            showarrow=False, xanchor="center", yanchor="middle",
                            font=dict(size=19.5, color="black", family="Liberation Sans")))

for line, yy in zip(CAPTION, CAPTION_Y):
    annotations.append(dict(x=PX(27), y=PY(yy), xref="paper", yref="paper", text=line,
                            showarrow=False, xanchor="left", yanchor="middle",
                            font=dict(size=18.7, color="#231f20", family="Roboto")))

# outer rounded border
x0p, x1p, ytp, ybp = PX(10), PX(1290), PY(9), PY(961)
rxp, ryp = 14 / FW, 14 / FH
border = (f"M {x0p + rxp},{ytp} L {x1p - rxp},{ytp} Q {x1p},{ytp} {x1p},{ytp - ryp} "
          f"L {x1p},{ybp + ryp} Q {x1p},{ybp} {x1p - rxp},{ybp} L {x0p + rxp},{ybp} "
          f"Q {x0p},{ybp} {x0p},{ybp + ryp} L {x0p},{ytp - ryp} Q {x0p},{ytp} {x0p + rxp},{ytp} Z")
shapes.append(dict(type="path", path=border, xref="paper", yref="paper",
                   line=dict(color="#3a3a3a", width=1.5), fillcolor="rgba(0,0,0,0)", layer="above"))

layout["shapes"] = shapes
layout["annotations"] = annotations
fig.update_layout(**layout)
fig.write_html("out.html")
